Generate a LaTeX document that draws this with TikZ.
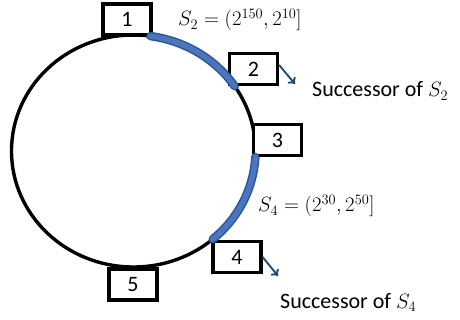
\documentclass[tikz,border=0pt]{standalone}
\usepackage{fontspec}
\setmainfont{Carlito}
\usetikzlibrary{arrows.meta}
\definecolor{arcblue}{RGB}{74,118,190}
\definecolor{arcedge}{RGB}{47,85,151}
\definecolor{arrblue}{RGB}{31,78,121}
\tikzset{
  nbox/.style={draw=black, line width=3.2pt, fill=white, minimum width=48pt, minimum height=31pt, inner sep=0pt, font=\fontsize{22}{24}\selectfont},
  lbl/.style={inner sep=0pt, anchor=base west, font=\fontsize{22}{24}\selectfont},
  mlbl/.style={inner sep=0pt, anchor=base west, font=\fontsize{20.5}{22}\selectfont},
  ring/.style={draw=black, line width=3.4pt},
  segedge/.style={draw=arcedge, line width=8.5pt, line cap=round},
  segfill/.style={draw=arcblue, line width=5.5pt, line cap=round},
  succ/.style={draw=arrblue, line width=1.9pt, -{To[length=6pt,width=10pt]}}
}
\begin{document}
\begin{tikzpicture}[x=1pt,y=-1pt]
\useasboundingbox (0,0) rectangle (460,320);
% ring
\draw[ring] (133.5,151) ellipse [x radius=122, y radius=116];
% boxes
\node[nbox] (b1) at (127,19.5) {1};
\node[nbox] (b2) at (253.5,69) {2};
\node[nbox] (b3) at (277.5,140) {3};
\node[nbox] (b4) at (237,257) {4};
\node[nbox] (b5) at (133,284.5) {5};
% blue segments
\draw[segedge] (133.5,151) ++(-82:122 and 116) arc [start angle=-82, end angle=-34, x radius=122, y radius=116];
\draw[segfill] (133.5,151) ++(-82:122 and 116) arc [start angle=-82, end angle=-34, x radius=122, y radius=116];
\draw[segedge] (133.5,151) ++(3:122 and 116) arc [start angle=3, end angle=49.5, x radius=122, y radius=116];
\draw[segfill] (133.5,151) ++(3:122 and 116) arc [start angle=3, end angle=49.5, x radius=122, y radius=116];
% successor arrows
\coordinate (a2) at (295,84);
\coordinate (a4) at (278,276);
\draw[succ] (b2.east) ++(0,-4) -- (a2);
\draw[succ] (b4.east) -- (a4);
% labels
\node[mlbl] (t1) at (178,26) {$S_2=(2^{150},2^{10}]$};
\node[lbl] (t2) at (312,97) {Successor of $S_2$};
\node[mlbl] (t3) at (258,212) {$S_4=(2^{30},2^{50}]$};
\node[lbl] (t4) at (280,308) {Successor of $S_4$};
\end{tikzpicture}
\end{document}
